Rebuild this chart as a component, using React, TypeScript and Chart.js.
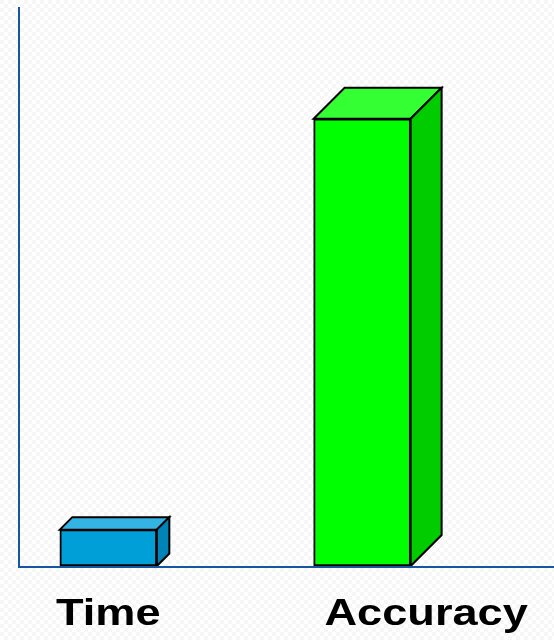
import React, { useEffect, useRef } from "react";
import { Chart, registerables } from "chart.js";

Chart.register(...registerables);

// ---- data ----
const categories: string[] = ["Time", "Accuracy"];
const values: number[] = [6.5, 80];
const frontColors: string[] = ["#009FD8", "#00FF00"];
const topColors: string[] = ["#33B4E4", "#33FF33"];
const sideColors: string[] = ["#0083B6", "#00CC00"];
const depths: number[] = [12.5, 31];
const labelShift: number[] = [0, 64];

const AXIS_COLOR = "#16569E";

const bgPlugin = {
  id: "bgPattern",
  beforeDraw(chart: any) {
    const ctx = chart.ctx as CanvasRenderingContext2D;
    const tile = document.createElement("canvas");
    tile.width = 8;
    tile.height = 8;
    const t = tile.getContext("2d")!;
    t.fillStyle = "#ffffff";
    t.fillRect(0, 0, 8, 8);
    t.fillStyle = "#f6f6f6";
    t.fillRect(0, 0, 4, 4);
    t.fillRect(4, 4, 4, 4);
    const pat = ctx.createPattern(tile, "repeat");
    ctx.save();
    if (pat) ctx.fillStyle = pat;
    ctx.fillRect(0, 0, chart.width, chart.height);
    ctx.restore();
  },
};

const boxPlugin = {
  id: "box3d",
  afterDatasetsDraw(chart: any) {
    const ctx = chart.ctx as CanvasRenderingContext2D;
    const meta = chart.getDatasetMeta(0);
    meta.data.forEach((bar: any, i: number) => {
      const { x, y, base, width } = bar.getProps(["x", "y", "base", "width"], true);
      const l = x - width / 2;
      const r = x + width / 2;
      const d = depths[i];
      ctx.save();
      ctx.lineWidth = 2;
      ctx.strokeStyle = "#000";
      ctx.lineJoin = "miter";
      // top face
      ctx.beginPath();
      ctx.moveTo(l, y);
      ctx.lineTo(l + d, y - d);
      ctx.lineTo(r + d, y - d);
      ctx.lineTo(r, y);
      ctx.closePath();
      ctx.fillStyle = topColors[i];
      ctx.fill();
      ctx.stroke();
      // side face
      ctx.beginPath();
      ctx.moveTo(r, y);
      ctx.lineTo(r + d, y - d);
      ctx.lineTo(r + d, base - d);
      ctx.lineTo(r, base);
      ctx.closePath();
      ctx.fillStyle = sideColors[i];
      ctx.fill();
      ctx.stroke();
      ctx.restore();
    });
  },
  afterDraw(chart: any) {
    const ctx = chart.ctx as CanvasRenderingContext2D;
    const area = chart.chartArea;
    ctx.save();
    ctx.strokeStyle = AXIS_COLOR;
    ctx.lineWidth = 2;
    ctx.beginPath();
    ctx.moveTo(area.left, area.top);
    ctx.lineTo(area.left, area.bottom + 2);
    ctx.stroke();
    ctx.beginPath();
    ctx.moveTo(area.left - 1, area.bottom + 1);
    ctx.lineTo(chart.width, area.bottom + 1);
    ctx.stroke();
    ctx.restore();

    const xs = chart.scales.x;
    categories.forEach((c, i) => {
      const px = xs.getPixelForValue(i) + labelShift[i];
      ctx.save();
      ctx.translate(px, area.bottom + 59);
      ctx.scale(1.22, 1);
      ctx.font = "bold 37px 'Liberation Sans', Arial, sans-serif";
      ctx.fillStyle = "#000";
      ctx.textAlign = "center";
      ctx.textBaseline = "alphabetic";
      ctx.fillText(c, 0, 0);
      ctx.restore();
    });
  },
};

export default function App() {
  const ref = useRef<HTMLCanvasElement | null>(null);
  useEffect(() => {
    if (!ref.current) return;
    const chart = new Chart(ref.current, {
      type: "bar",
      data: {
        datasets: [
          {
            data: values.map((v, i) => ({ x: i, y: v })),
            backgroundColor: frontColors,
            borderColor: "#000",
            borderWidth: 2,
            borderSkipped: false,
            barThickness: 97,
          },
        ],
      },
      options: {
        animation: false,
        responsive: false,
        layout: { padding: { left: 19, top: 7, right: 0, bottom: 74 } },
        plugins: { legend: { display: false }, tooltip: { enabled: false } },
        scales: {
          x: { type: "linear", min: -0.352, max: 1.756, offset: false, display: false },
          y: { min: 0, max: 100, display: false },
        },
      },
      plugins: [bgPlugin, boxPlugin],
    });
    return () => chart.destroy();
  }, []);
  return (
    <div style={{ position: "fixed", left: 0, top: 0, width: 554, height: 640 }}>
      <canvas ref={ref} width={554} height={640} style={{ display: "block" }} />
    </div>
  );
}
